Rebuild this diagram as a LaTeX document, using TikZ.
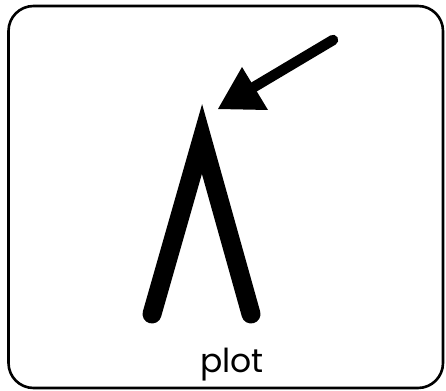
\documentclass[tikz,border=0pt]{standalone}
\usepackage{fontspec}
\setmainfont{Poppins}
\begin{document}
\begin{tikzpicture}[x=1pt,y=-1pt,
  frame/.style={draw=black,line width=2.6pt,rounded corners=25pt},
  lambdastroke/.style={draw=black,line width=19pt,line cap=round,line join=miter},
  shaft/.style={draw=black,line width=10.5pt,line cap=round},
  headtri/.style={fill=black}]
\useasboundingbox (0,0) rectangle (446,390);
\draw[frame] (8.5,6) rectangle (443,388);
\coordinate (left) at (152,314);
\coordinate (apex) at (202,139);
\coordinate (right) at (251,314);
\draw[lambdastroke] (left) -- (apex) -- (right);
\coordinate (tail) at (333,40);
\coordinate (tip) at (218,109);
\coordinate (basemid) at (254,87);
\coordinate (c1) at (242,67);
\coordinate (c2) at (268,110);
\draw[shaft] (tail) -- (basemid);
\fill[headtri] (tip) -- (c1) -- (c2) -- cycle;
\node[font=\fontsize{33}{38}\selectfont, anchor=base, inner sep=0pt] (label) at (232,372) {plot};
\end{tikzpicture}
\end{document}
